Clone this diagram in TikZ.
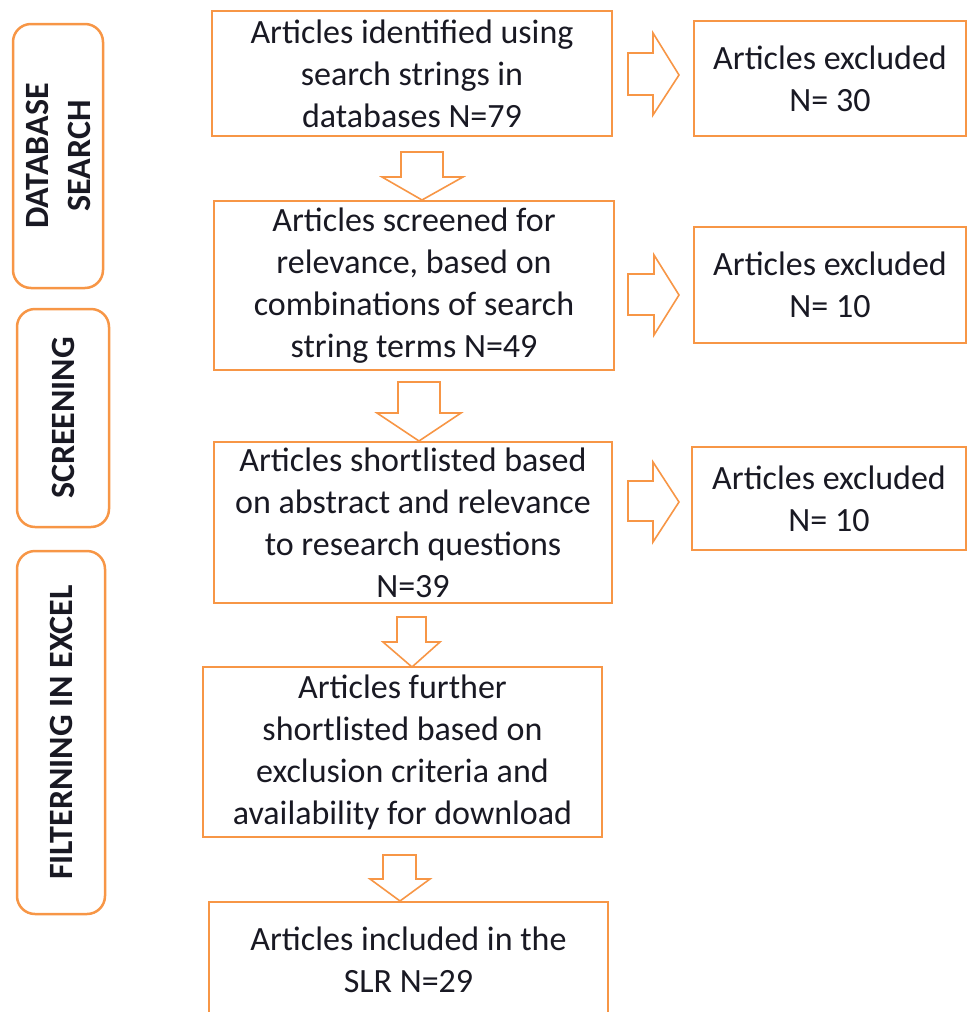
\documentclass[tikz,border=0pt]{standalone}
\usepackage{fontspec}
\setmainfont{Carlito}
\definecolor{org}{RGB}{247,150,70}
\definecolor{ink}{RGB}{25,25,35}
\tikzset{
  boxline/.style={draw=org, line width=2.5pt},
  mainbox/.style={boxline, rectangle, align=center, inner sep=0pt, text=ink,
    font=\fontsize{34}{42}\selectfont},
  exclbox/.style={mainbox},
  sidebox/.style={boxline, rectangle, rounded corners=18pt, rotate=90, align=center,
    inner sep=0pt, text=ink, font=\fontsize{34}{42}\selectfont\bfseries},
  blockarrow/.style={draw=org, line width=1.6pt, fill=white, line join=miter}
}
\begin{document}
\begin{tikzpicture}[x=1pt, y=-1pt]
\useasboundingbox (0,0) rectangle (968,1012);
% side labels
\node[sidebox, minimum width=264, minimum height=90] (s1) at (58,156) {DATABASE\\SEARCH};
\node[sidebox, minimum width=218, minimum height=92] (s2) at (63,418) {SCREENING};
\node[sidebox, minimum width=363, minimum height=88] (s3) at (61,732.5) {FILTERNING IN EXCEL};
% main boxes
\node[mainbox, minimum width=400, minimum height=125] (b1) at (412,73.5) {Articles identified using\\search strings in\\databases N=79};
\node[mainbox, minimum width=400, minimum height=169] (b2) at (414,285.5) {Articles screened for\\relevance, based on\\combinations of search\\string terms N=49};
\node[mainbox, minimum width=398, minimum height=161] (b3) at (413,522.5) {Articles shortlisted based\\on abstract and relevance\\to research questions\\N=39};
\node[mainbox, minimum width=399, minimum height=170] (b4) at (402.5,752) {Articles further\\shortlisted based on\\exclusion criteria and\\availability for download};
\node[mainbox, minimum width=399, minimum height=116] (b5) at (408.5,960) {Articles included in the\\SLR N=29};
% excluded boxes
\node[exclbox, minimum width=272, minimum height=115] (e1) at (830,78.5) {Articles excluded\\N= 30};
\node[exclbox, minimum width=272, minimum height=116] (e2) at (830,285) {Articles excluded\\N= 10};
\node[exclbox, minimum width=274, minimum height=103] (e3) at (829,498.5) {Articles excluded\\N= 10};
% down block arrows
\draw[blockarrow] (401,152) -- (443,152) -- (443,177) -- (463,177) -- (422,200) -- (382,177) -- (401,177) -- cycle;
\draw[blockarrow] (398,382) -- (440,382) -- (440,413) -- (461,413) -- (419,441) -- (377,413) -- (398,413) -- cycle;
\draw[blockarrow] (397,617) -- (426,617) -- (426,642) -- (440,642) -- (412,667) -- (383,642) -- (397,642) -- cycle;
\draw[blockarrow] (383,855) -- (416,855) -- (416,879) -- (430,879) -- (400,901) -- (370,879) -- (383,879) -- cycle;
% right block arrows
\draw[blockarrow] (628,53) -- (653,53) -- (653,33) -- (679,75) -- (653,115) -- (653,95) -- (628,95) -- cycle;
\draw[blockarrow] (628,274) -- (654,274) -- (654,255) -- (679,295) -- (654,335) -- (654,315) -- (628,315) -- cycle;
\draw[blockarrow] (628,481) -- (653,481) -- (653,462) -- (679,502) -- (653,542) -- (653,521) -- (628,521) -- cycle;
\end{tikzpicture}
\end{document}
